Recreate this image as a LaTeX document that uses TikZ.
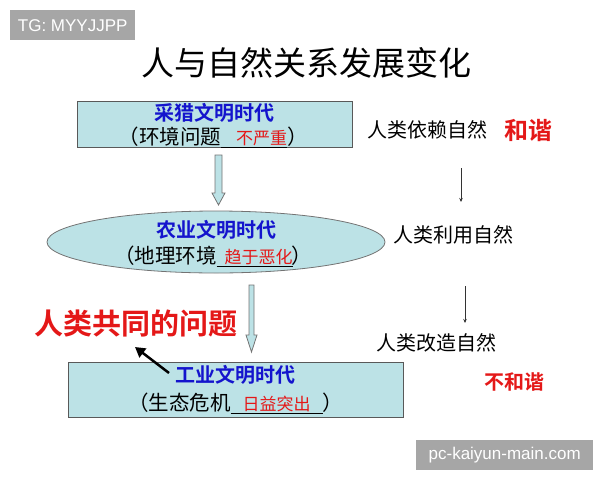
\documentclass[tikz,border=0pt]{standalone}
\usepackage{fontspec}
\setmainfont{Noto Sans CJK SC}[BoldFont={Noto Sans CJK SC Bold}]
\newfontfamily\wmfont{Liberation Sans}
\usetikzlibrary{arrows.meta,shapes.geometric}

\definecolor{boxcyan}{RGB}{188,226,230}
\definecolor{eraBlue}{RGB}{20,20,205}
\definecolor{warnRed}{RGB}{228,24,24}
\definecolor{wmGray}{RGB}{166,166,166}

% underlined blank filled with red answer
\newcommand{\blank}[3][r]{\underline{\makebox[#2][#1]{\fontsize{17}{18}\selectfont\color{warnRed}#3}}}

\begin{document}
\begin{tikzpicture}[x=1pt,y=-1pt,
  era/.style={font=\fontsize{20}{22}\selectfont\bfseries, text=eraBlue, inner sep=0pt},
  line2/.style={font=\fontsize{20.5}{22}\selectfont, inner sep=0pt},
  note/.style={font=\fontsize{20}{22}\selectfont, inner sep=0pt},
  verdict/.style={font=\fontsize{20}{22}\selectfont\bfseries, text=warnRed, inner sep=0pt},
  erabox/.style={draw=black!65, fill=boxcyan, line width=0.8pt, inner sep=0pt},
  hollow/.style={draw=black!55, fill=boxcyan, line width=0.8pt},
  thinarr/.style={draw=black!80, line width=0.6pt, -{Stealth[length=4pt,width=3.5pt]}},
  wm/.style={fill=wmGray, text=white, font=\wmfont\fontsize{17}{18}\selectfont, inner sep=0pt}]
  \useasboundingbox (0,0) rectangle (600,480);
  % watermarks
  \node[wm, minimum width=125, minimum height=30, anchor=north west] (tg) at (10,10) {TG: MYYJJPP};
  \node[wm, minimum width=177, minimum height=30, anchor=north west] (site) at (416,440) {pc-kaiyun-main.com};
  \node[font=\fontsize{33}{36}\selectfont, inner sep=0pt] (title) at (306,63) {人与自然关系发展变化};

  % the three eras
  \node[erabox, minimum width=275, minimum height=46] (hunt) at (214.5,124) {};
  \node[erabox, ellipse, draw=black!55, minimum width=338, minimum height=62] (farm) at (216,242) {};
  \node[erabox, minimum width=335, minimum height=55] (ind) at (235.5,389.5) {};
  \node[era] (huntT) at (214,113) {采猎文明时代};
  \node[line2] (huntN) at (213,137) {（环境问题\blank{66pt}{不严重}）};
  \node[era] (farmT) at (216,230) {农业文明时代};
  \node[line2] (farmN) at (213,256) {（地理环境\blank{76pt}{趋于恶化}\hspace{-1pt}）};
  \node[era] (indT) at (235,375) {工业文明时代};
  \node[line2] (indN) at (235.5,403) {（生态危机\blank[c]{92pt}{日益突出}）};

  \foreach \x/\ya/\yb/\yc/\s/\h in {218.5/155/193/205/3.5/6.5, 251.5/285/335/352/2.5/5.5}
    \draw[hollow] ({\x-\s},\ya) -- ({\x+\s},\ya) -- ({\x+\s},\yb) -- ({\x+\h},\yb)
      -- (\x,\yc) -- ({\x-\h},\yb) -- ({\x-\s},\yb) -- cycle;

  % right column
  \node[note] (dep) at (427,130) {人类依赖自然};
  \node[verdict, font=\fontsize{24}{26}\selectfont\bfseries] (harm) at (528,130) {和谐};
  \node[note] (use) at (453,235) {人类利用自然};
  \node[note] (remake) at (436,343) {人类改造自然};
  \node[verdict] (noharm) at (514,382) {不和谐};
  \coordinate (d1) at (461,168);
  \coordinate (d2) at (461,202);
  \coordinate (d3) at (465,286);
  \coordinate (d4) at (465,323);
  \draw[thinarr] (d1) -- (d2);
  \draw[thinarr] (d3) -- (d4);

  \node[verdict, font=\fontsize{29}{31}\selectfont\bfseries] (prob) at (136,323) {人类共同的问题};
  \coordinate (p1) at (169,373);
  \coordinate (p2) at (135,347);
  \draw[line width=2.5pt, -{Triangle[length=10pt,width=11pt]}] (p1) -- (p2);
\end{tikzpicture}
\end{document}
